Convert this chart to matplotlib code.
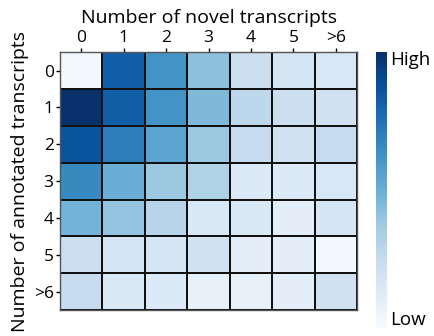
import numpy as np
import matplotlib
matplotlib.use("Agg")
import matplotlib.pyplot as plt

plt.rcParams['font.family'] = ['Open Sans', 'DejaVu Sans']

novel_labels = ["0", "1", "2", "3", "4", "5", ">6"]
annotated_labels = ["0", "1", "2", "3", "4", "5", ">6"]

# relative abundance (0 = low, 1 = high)
row_0 = [0.02, 0.82, 0.62, 0.42, 0.22, 0.18, 0.16]
row_1 = [1.00, 0.82, 0.62, 0.45, 0.28, 0.22, 0.20]
row_2 = [0.86, 0.70, 0.55, 0.38, 0.25, 0.20, 0.25]
row_3 = [0.66, 0.50, 0.38, 0.32, 0.14, 0.14, 0.16]
row_4 = [0.48, 0.40, 0.30, 0.15, 0.15, 0.10, 0.17]
row_5 = [0.22, 0.18, 0.17, 0.20, 0.10, 0.10, 0.02]
row_6 = [0.25, 0.15, 0.14, 0.08, 0.08, 0.10, 0.20]

data = np.array([row_0, row_1, row_2, row_3, row_4, row_5, row_6])

fig = plt.figure(figsize=(4.34, 3.36), dpi=100)
ax = fig.add_axes([0.138, 0.077, 0.685, 0.768])
mesh = ax.pcolormesh(data, cmap="Blues", vmin=0, vmax=1,
                     edgecolors="#111111", linewidth=1.3)
ax.set_xlim(0, data.shape[1])
ax.set_ylim(data.shape[0], 0)
ax.set_xticks(np.arange(data.shape[1]) + 0.5)
ax.set_yticks(np.arange(data.shape[0]) + 0.5)
ax.set_xticklabels(novel_labels, fontsize=12.5)
ax.set_yticklabels(annotated_labels, fontsize=12.5)
ax.xaxis.tick_top()
ax.xaxis.set_label_position("top")
ax.tick_params(length=3, width=1, pad=1.5)
ax.set_xlabel("Number of novel transcripts", fontsize=14, labelpad=5)
ax.set_ylabel("Number of annotated transcripts", fontsize=14, labelpad=3)
for s in ax.spines.values():
    s.set_color("#555555")
    s.set_linewidth(1.0)

cax = fig.add_axes([0.866, 0.024, 0.025, 0.821])
cb = fig.colorbar(mesh, cax=cax)
cb.outline.set_visible(False)
cb.set_ticks([])
cax.text(1.35, 0.97, "High", transform=cax.transAxes, fontsize=13.5,
         ha="left", va="center")
cax.text(1.35, 0.03, "Low", transform=cax.transAxes, fontsize=13.5,
         ha="left", va="center")

fig.savefig("out.png", dpi=100)
